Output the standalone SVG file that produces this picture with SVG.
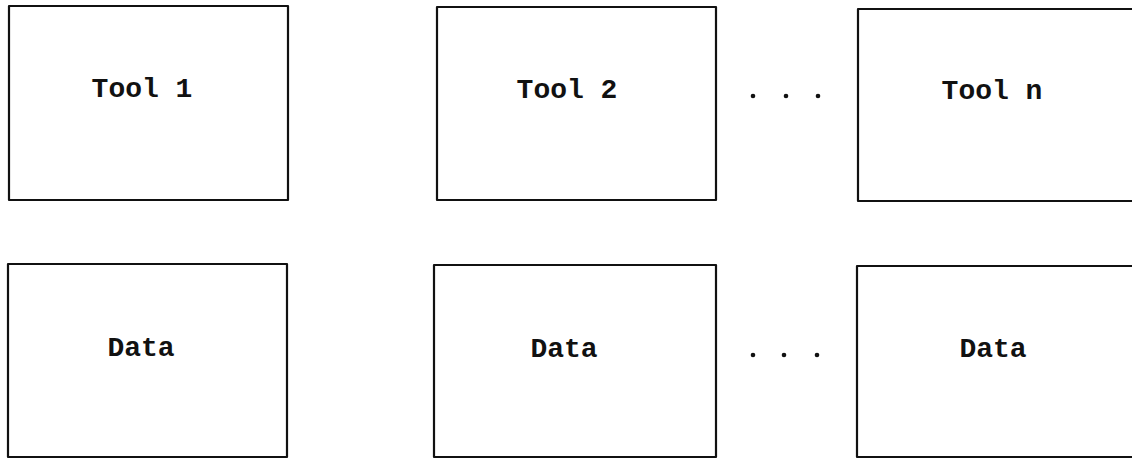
<svg xmlns="http://www.w3.org/2000/svg" width="1132" height="461" viewBox="0 0 1132 461">
<style>
.box{fill:none;stroke:#111;stroke-width:2.2;stroke-linejoin:round}
.lbl{font-family:"Liberation Mono","Courier New",monospace;font-weight:bold;font-size:28px;fill:#111;text-anchor:middle}
.dot{fill:#111}
</style>
<rect width="1132" height="461" fill="#fff"/>
<g id="tool1"><rect class="box" x="9" y="6" width="279" height="194"/><text class="lbl" x="142" y="97">Tool 1</text></g>
<g id="tool2"><rect class="box" x="437" y="7" width="279" height="193"/><text class="lbl" x="567" y="98">Tool 2</text></g>
<g id="tooln"><path class="box" d="M1132,9 L858,9 L858,201 L1132,201"/><text class="lbl" x="992" y="99">Tool n</text></g>
<g id="data1"><rect class="box" x="8" y="264" width="279" height="193"/><text class="lbl" x="141" y="356">Data</text></g>
<g id="data2"><rect class="box" x="434" y="265" width="282" height="192"/><text class="lbl" x="564" y="357">Data</text></g>
<g id="datan"><path class="box" d="M1132,266 L857,266 L857,457 L1132,457"/><text class="lbl" x="993" y="357">Data</text></g>
<g id="connectors">
<circle class="dot" cx="753" cy="96" r="2.3"/><circle class="dot" cx="786" cy="96" r="2.3"/><circle class="dot" cx="818" cy="96" r="2.3"/>
<circle class="dot" cx="753" cy="355" r="2.3"/><circle class="dot" cx="784" cy="355" r="2.3"/><circle class="dot" cx="817" cy="355" r="2.3"/>
</g>
</svg>
